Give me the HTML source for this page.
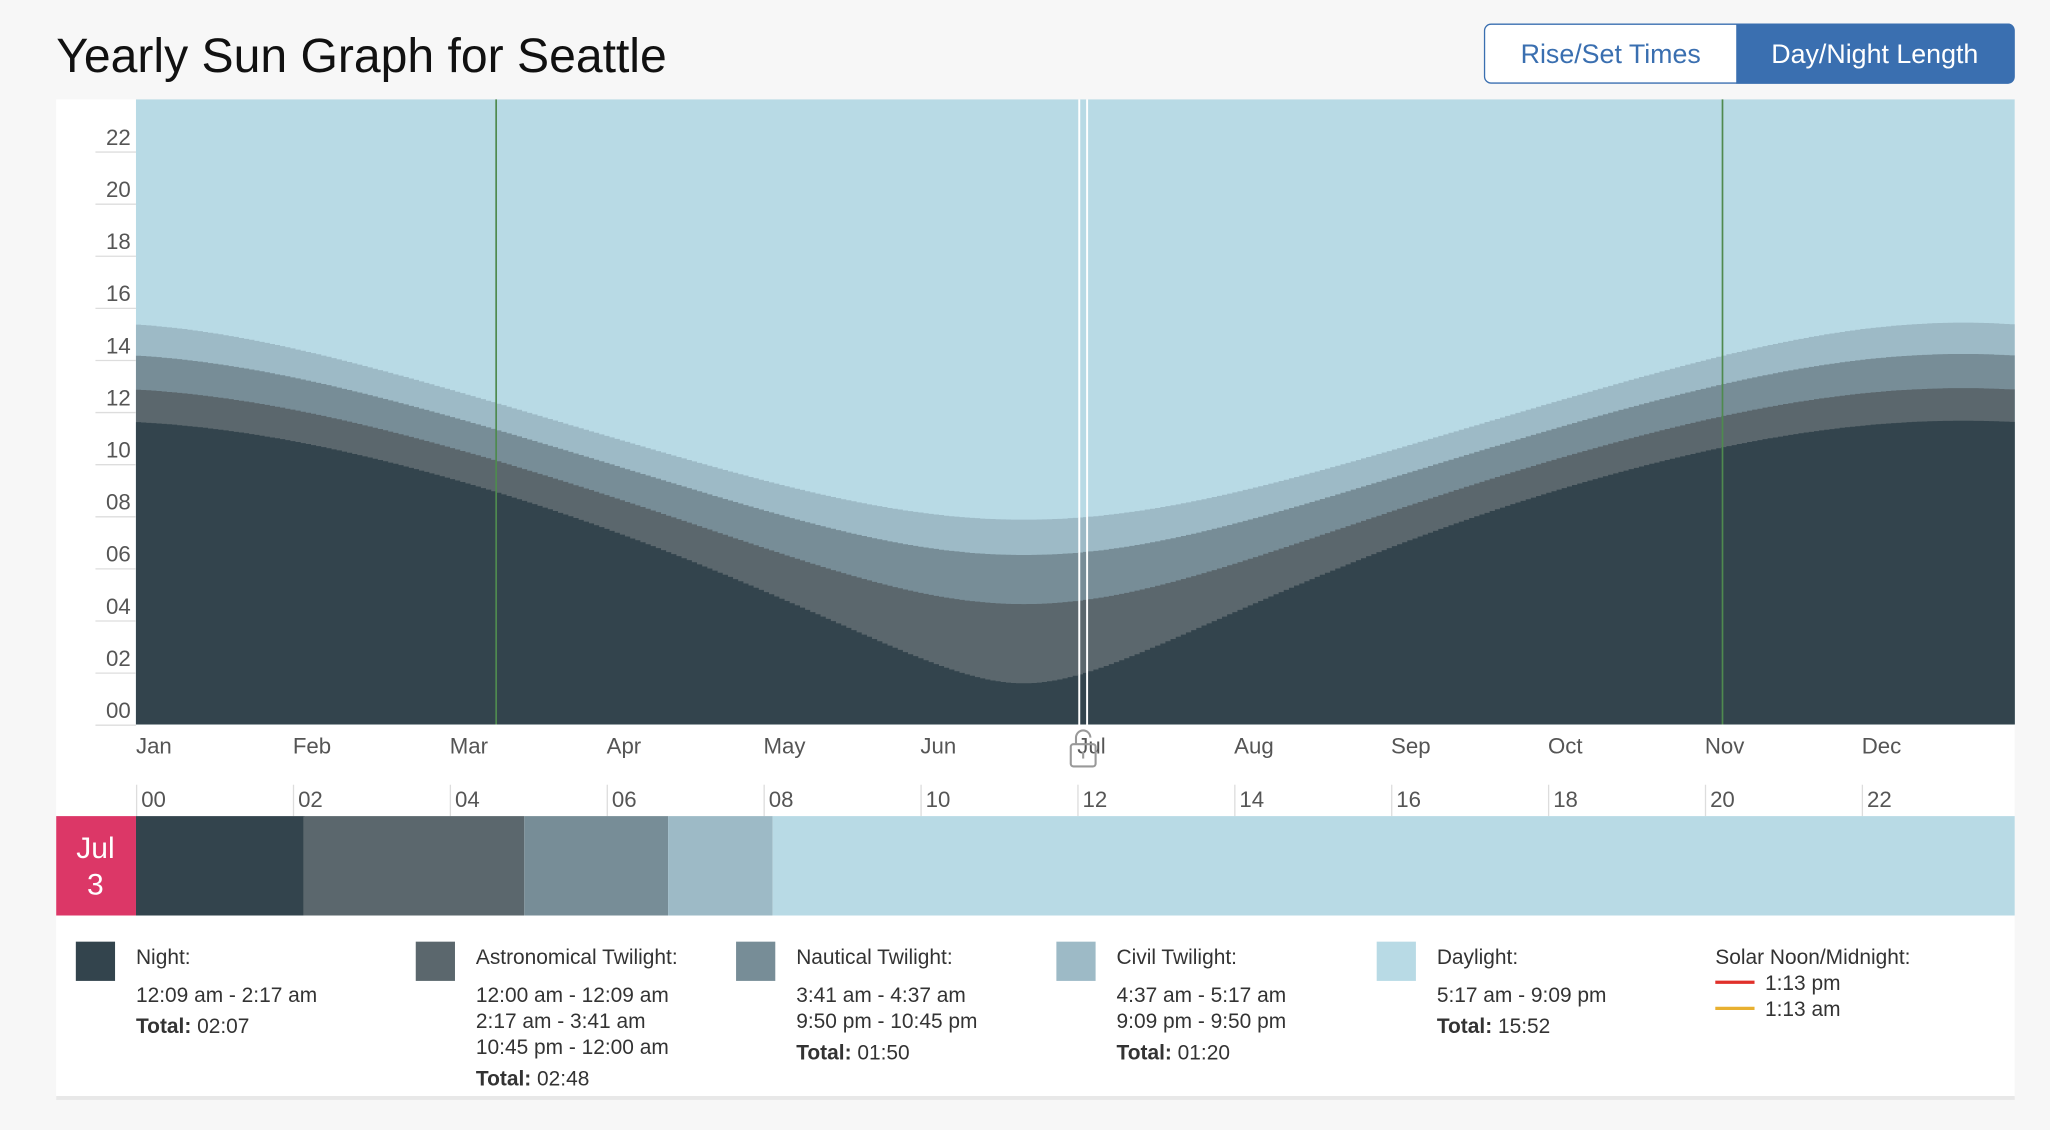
<!DOCTYPE html>
<html><head><meta charset="utf-8"><style>
html,body{margin:0;padding:0;background:#f7f7f7;}
svg{display:block;font-family:"Liberation Sans",Arial,sans-serif;}
</style></head><body>
<svg id="s" width="2050" height="1130" viewBox="0 0 1568 864" preserveAspectRatio="none" xmlns="http://www.w3.org/2000/svg">
<rect x="0" y="0" width="1568" height="864" fill="#f7f7f7"/>
<text x="43" y="55" font-size="36.8" fill="#111">Yearly Sun Graph for Seattle</text>
<rect x="1135.5" y="18.5" width="405" height="45" rx="5" fill="#fff" stroke="#3a6fb0"/>
<path d="M1328 18 H1536 a5 5 0 0 1 5 5 V59 a5 5 0 0 1 -5 5 H1328 Z" fill="#3a6fb0"/>
<text x="1232" y="48" font-size="20.5" fill="#3a6fb0" text-anchor="middle">Rise/Set Times</text>
<text x="1434" y="48" font-size="20.5" fill="#fff" text-anchor="middle">Day/Night Length</text>
<rect x="43" y="76" width="1498" height="763" fill="#fff"/>
<rect x="43" y="838" width="1498" height="3" fill="#e8e8e8"/>
<rect x="104" y="76" width="1437" height="478" fill="#b8dae5"/>
<g id="bands"></g>
<g id="axes"></g>
<line x1="379.5" y1="76" x2="379.5" y2="554" stroke="#4f8a4f" stroke-width="1.3"/>
<line x1="1317.5" y1="76" x2="1317.5" y2="554" stroke="#4f8a4f" stroke-width="1.3"/>
<line x1="825.5" y1="76" x2="825.5" y2="556" stroke="#fff" stroke-width="1.5"/>
<line x1="831.5" y1="76" x2="831.5" y2="556" stroke="#fff" stroke-width="1.5"/>
<g fill="none" stroke="#999" stroke-width="1.6">
<rect x="819" y="569" width="19" height="17" rx="2"/>
<path d="M823 569 v-5 a5.5 5.5 0 0 1 11 0"/>
<path d="M828.5 575 v5"/>
</g>
<rect x="43" y="624" width="61" height="76" fill="#dc3767"/>
<text x="73" y="656" font-size="23" fill="#fff" text-anchor="middle">Jul</text>
<text x="73" y="684" font-size="23" fill="#fff" text-anchor="middle">3</text>
<rect x="104" y="624" width="129" height="76" fill="#33444d"/>
<rect x="232" y="624" width="169" height="76" fill="#5b676d"/>
<rect x="401" y="624" width="110" height="76" fill="#778d97"/>
<rect x="511" y="624" width="80" height="76" fill="#9dbac6"/>
<rect x="591" y="624" width="950" height="76" fill="#b8dae5"/>
<g font-size="16" fill="#333">
<rect x="58" y="720" width="30" height="30" fill="#33444d"/>
<text x="104" y="737">Night:</text>
<text x="104" y="766">12:09 am - 2:17 am</text>
<text x="104" y="790"><tspan font-weight="bold">Total:</tspan> 02:07</text>
<rect x="318" y="720" width="30" height="30" fill="#5b676d"/>
<text x="364" y="737">Astronomical Twilight:</text>
<text x="364" y="766">12:00 am - 12:09 am</text>
<text x="364" y="786">2:17 am - 3:41 am</text>
<text x="364" y="806">10:45 pm - 12:00 am</text>
<text x="364" y="830"><tspan font-weight="bold">Total:</tspan> 02:48</text>
<rect x="563" y="720" width="30" height="30" fill="#778d97"/>
<text x="609" y="737">Nautical Twilight:</text>
<text x="609" y="766">3:41 am - 4:37 am</text>
<text x="609" y="786">9:50 pm - 10:45 pm</text>
<text x="609" y="810"><tspan font-weight="bold">Total:</tspan> 01:50</text>
<rect x="808" y="720" width="30" height="30" fill="#9dbac6"/>
<text x="854" y="737">Civil Twilight:</text>
<text x="854" y="766">4:37 am - 5:17 am</text>
<text x="854" y="786">9:09 pm - 9:50 pm</text>
<text x="854" y="810"><tspan font-weight="bold">Total:</tspan> 01:20</text>
<rect x="1053" y="720" width="30" height="30" fill="#b8dae5"/>
<text x="1099" y="737">Daylight:</text>
<text x="1099" y="766">5:17 am - 9:09 pm</text>
<text x="1099" y="790"><tspan font-weight="bold">Total:</tspan> 15:52</text>
<text x="1312" y="737">Solar Noon/Midnight:</text>
<line x1="1312" y1="751" x2="1342" y2="751" stroke="#e0302a" stroke-width="2.5"/>
<text x="1350" y="757">1:13 pm</text>
<line x1="1312" y1="771" x2="1342" y2="771" stroke="#e8b030" stroke-width="2.5"/>
<text x="1350" y="777">1:13 am</text>
</g>
</svg>
<script>
var NS="http://www.w3.org/2000/svg";
function el(t,a,p,txt){var e=document.createElementNS(NS,t);for(var k in a)e.setAttribute(k,a[k]);if(txt!==undefined)e.textContent=txt;p.appendChild(e);return e;}
var bands=document.getElementById('bands'),axes=document.getElementById('axes');
var lat=47.6*Math.PI/180;
function above(h0,d){var dec=-23.44*Math.cos(2*Math.PI*(d+10)/365)*Math.PI/180;
 var c=(Math.sin(h0*Math.PI/180)-Math.sin(lat)*Math.sin(dec))/(Math.cos(lat)*Math.cos(dec));
 if(c>1)return 0;if(c<-1)return 24;return 2*Math.acos(c)*180/Math.PI/15;}
var px=1437/365,Y=function(h){return 554-h*19.92;};
var lv=[[-0.833,'#9dbac6'],[-6,'#778d97'],[-12,'#5b676d'],[-18,'#33444d']];
lv.forEach(function(l){var d="M104 554";for(var i=0;i<365;i++){var h=24-above(l[0],i+0.5);var y=(Y(h)+3).toFixed(1);d+=" L"+(104+i*px).toFixed(1)+" "+y+" L"+(104+(i+1)*px).toFixed(1)+" "+y;}d+=" L1541 554 Z";el('path',{d:d,fill:l[1]},bands);});
for(var k=0;k<12;k++){var h=k*2,y=Y(h);
 el('line',{x1:73,y1:y+0.5,x2:104,y2:y+0.5,stroke:'#ddd'},axes);
 el('text',{x:100,y:y-5,'font-size':17,fill:'#555','text-anchor':'end'},axes,(h<10?'0':'')+h);}
var m=['Jan','Feb','Mar','Apr','May','Jun','Jul','Aug','Sep','Oct','Nov','Dec'];
for(var i=0;i<12;i++){var x=104+120*i;
 el('text',{x:x,y:576,'font-size':17,fill:'#555'},axes,m[i]);
 el('line',{x1:x+0.5,y1:600,x2:x+0.5,y2:624,stroke:'#ddd'},axes);
 el('text',{x:x+4,y:617,'font-size':17,fill:'#555'},axes,(i*2<10?'0':'')+i*2);}
</script>
</body></html>
